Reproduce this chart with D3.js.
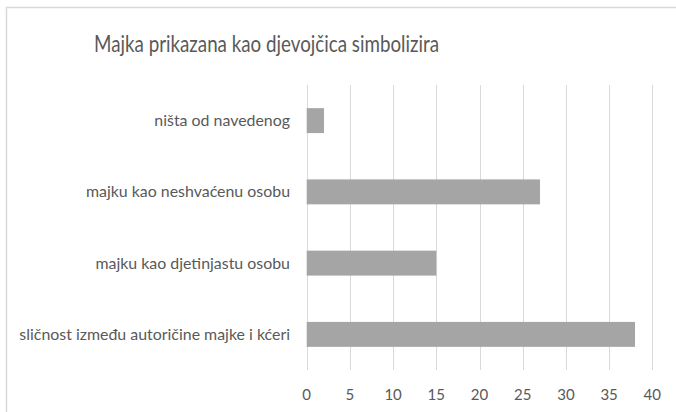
<!DOCTYPE html>
<html><head><meta charset="utf-8">
<script src="https://cdn.jsdelivr.net/npm/d3@7"></script>
<style>body{margin:0;background:#fff}svg{display:block}</style>
</head><body>
<script>
const title = "Majka prikazana kao djevojčica simbolizira";
const categories = ["ništa od navedenog","majku kao neshvaćenu osobu","majku kao djetinjastu osobu","sličnost između autoričine majke i kćeri"];
const values = [2, 27, 15, 38];
const ticks = [0,5,10,15,20,25,30,35,40];

const W = 676, H = 412;
const FONT = "Lato, 'Open Sans', sans-serif";
const svg = d3.select("body").append("svg").attr("width", W).attr("height", H);

// chart border
svg.append("path").attr("d", "M6.5,412 V7.5 H676").attr("fill","none").attr("stroke","#d9d9d9").attr("stroke-width",1.5);

const m = {left: 306.7, right: 652.3, top: 85, bottom: 370};
const x = d3.scaleLinear().domain([0,40]).range([m.left, m.right]);
const y = d3.scaleBand().domain(categories).range([m.top, m.bottom]).paddingInner(0.65).paddingOuter(0.325);

// gridlines
svg.append("g").selectAll("line").data(ticks).join("line")
  .attr("x1", d=>Math.round(x(d))+0.5).attr("x2", d=>Math.round(x(d))+0.5)
  .attr("y1", m.top).attr("y2", m.bottom)
  .attr("stroke", "#d9d9d9").attr("stroke-width", 1);

// bars
svg.append("g").selectAll("rect").data(values).join("rect")
  .attr("x", x(0)).attr("y", (d,i)=>y(categories[i]))
  .attr("width", d=>x(d)-x(0)).attr("height", y.bandwidth())
  .attr("fill", "#a5a5a5");

// fit helper
function fit(sel, target){
  const w = sel.node().getComputedTextLength();
  const fs = parseFloat(sel.attr("font-size"));
  sel.attr("font-size", fs*target/w);
  return fs*target/w;
}

// category labels
const lab = svg.append("g").selectAll("text").data(categories).join("text")
  .attr("x", 290).attr("y", d=>y(d)+y.bandwidth()/2)
  .attr("dy","0.35em").attr("text-anchor","end")
  .attr("font-family", FONT).attr("font-size", 14).attr("fill","#595959")
  .text(d=>d);
const longest = lab.filter((d,i)=>i===3);
const fs = fit(longest, 271);
lab.attr("font-size", fs);

// x axis tick labels
svg.append("g").selectAll("text").data(ticks).join("text")
  .attr("x", d=>x(d)).attr("y", 395).attr("dy","0.35em").attr("text-anchor","middle")
  .attr("font-family", FONT).attr("font-size", 15).attr("fill","#595959")
  .text(d=>d);

// title
svg.append("text").attr("x", 94).attr("y", 52)
  .attr("font-family", FONT).attr("font-size", 23).attr("fill","#595959")
  .attr("textLength", 345).attr("lengthAdjust", "spacingAndGlyphs")
  .text(title);
</script>
</body></html>
